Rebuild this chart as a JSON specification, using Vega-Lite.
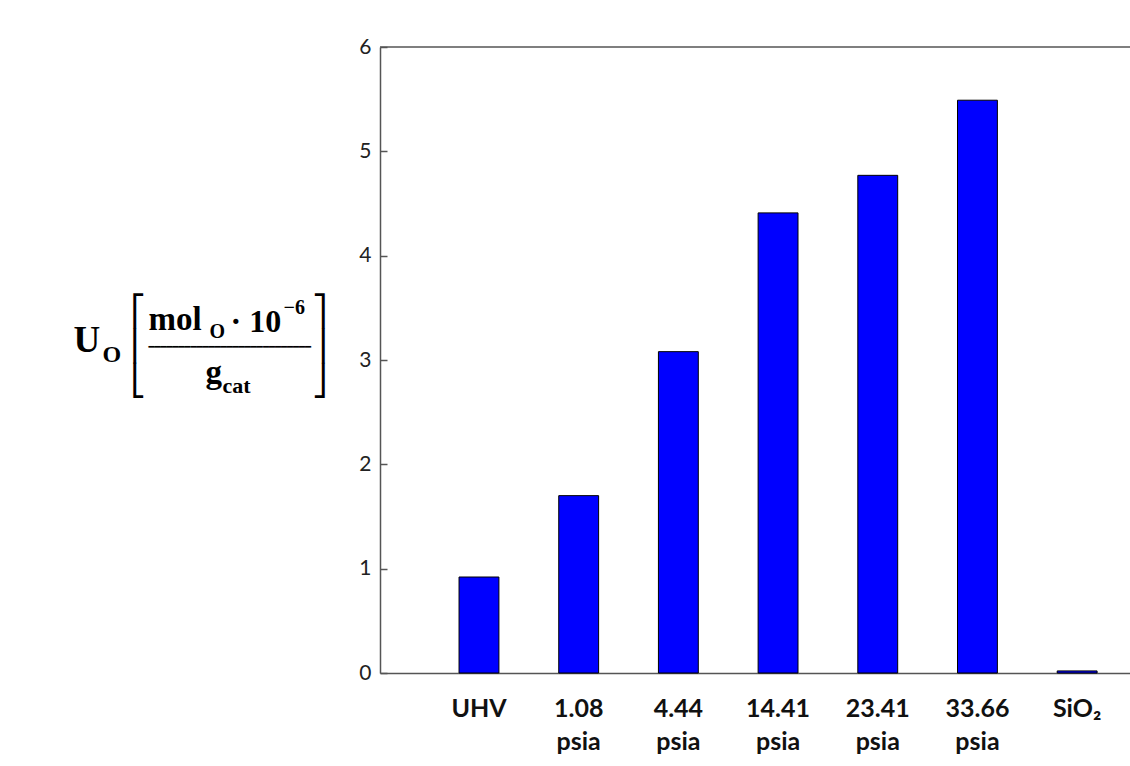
{
  "$schema": "https://vega.github.io/schema/vega-lite/v6.json",
  "autosize": "none",
  "width": 750,
  "height": 626,
  "padding": {"left": 380, "top": 47, "right": 0, "bottom": 93},
  "background": "white",
  "config": {"view": {"stroke": null}},
  "data": {"values": [
    {"cond": "UHV", "U": 0.92},
    {"cond": "1.08 psia", "U": 1.70},
    {"cond": "4.44 psia", "U": 3.08},
    {"cond": "14.41 psia", "U": 4.41},
    {"cond": "23.41 psia", "U": 4.77},
    {"cond": "33.66 psia", "U": 5.49},
    {"cond": "SiO₂", "U": 0.02}
  ]},
  "resolve": {"axis": {"y": "independent"}},
  "layer": [
    {
      "mark": {"type": "bar", "fill": "#0000ff", "stroke": "#000000", "strokeWidth": 1},
      "encoding": {
        "x": {"field": "cond", "type": "nominal", "sort": null,
          "scale": {"paddingInner": 0.6, "paddingOuter": 0.5615, "align": 0.706},
          "axis": {"title": null, "labelAngle": 0, "ticks": false, "domainColor": "#555555", "domainWidth": 1.5,
            "labelFont": "Lato", "labelFontWeight": "bold", "labelFontSize": 25, "labelColor": "#111111",
            "labelLineHeight": 33, "labelPadding": 23, "labelBaseline": "top",
            "labelExpr": "split(datum.value, ' ')"}},
        "y": {"field": "U", "type": "quantitative",
          "scale": {"domain": [0, 6], "nice": false, "zero": true},
          "axis": {"orient": "left", "values": [0, 1, 2, 3, 4, 5, 6], "grid": false, "domainColor": "#555555", "domainWidth": 1.5,
            "tickColor": "#555555", "tickWidth": 1.5, "tickSize": -7, "labelPadding": 16,
            "labelFont": "Lato", "labelFontSize": 21, "labelColor": "#222222",
            "title": "U", "titleAngle": 0, "titleFont": "Liberation Serif", "titleFontWeight": "bold", "titleFontSize": 37,
            "titleColor": "#000000", "titleAlign": "left", "titleBaseline": "alphabetic", "titleX": -307, "titleY": 304}}
      }
    },
    {
      "data": {"values": [{}]},
      "mark": {"type": "rule", "color": "#555555", "strokeWidth": 1.5},
      "encoding": {"y": {"datum": 6, "type": "quantitative",
        "axis": {"orient": "left", "domain": false, "ticks": false, "labels": false, "grid": false,
          "title": "O", "titleAngle": 0, "titleFont": "Liberation Serif", "titleFontWeight": "bold", "titleFontSize": 24,
          "titleColor": "#000000", "titleAlign": "left", "titleBaseline": "alphabetic", "titleX": -278, "titleY": 314}}}
    },
    {
      "data": {"values": [{}]},
      "mark": {"type": "rule", "opacity": 0},
      "encoding": {"y": {"datum": 6, "type": "quantitative",
        "axis": {"orient": "left", "domain": false, "ticks": false, "labels": false, "grid": false,
          "title": ["⎡", "⎢", "⎣"], "titleAngle": 0, "titleFont": "DejaVu Sans", "titleFontWeight": "normal", "titleFontSize": 30,
          "titleLineHeight": 35, "titleColor": "#000000", "titleAlign": "left", "titleBaseline": "alphabetic", "titleX": -250, "titleY": 273}}}
    },
    {
      "data": {"values": [{}]},
      "mark": {"type": "rule", "opacity": 0},
      "encoding": {"y": {"datum": 6, "type": "quantitative",
        "axis": {"orient": "left", "domain": false, "ticks": false, "labels": false, "grid": false,
          "title": ["⎤", "⎥", "⎦"], "titleAngle": 0, "titleFont": "DejaVu Sans", "titleFontWeight": "normal", "titleFontSize": 30,
          "titleLineHeight": 35, "titleColor": "#000000", "titleAlign": "right", "titleBaseline": "alphabetic", "titleX": -53, "titleY": 273}}}
    },
    {
      "data": {"values": [{}]},
      "mark": {"type": "rule", "opacity": 0},
      "encoding": {"y": {"datum": 6, "type": "quantitative",
        "axis": {"orient": "left", "domain": false, "ticks": false, "labels": false, "grid": false,
          "title": "mol", "titleAngle": 0, "titleFont": "Liberation Serif", "titleFontWeight": "bold", "titleFontSize": 33,
          "titleColor": "#000000", "titleAlign": "left", "titleBaseline": "alphabetic", "titleX": -232, "titleY": 282}}}
    },
    {
      "data": {"values": [{}]},
      "mark": {"type": "rule", "opacity": 0},
      "encoding": {"y": {"datum": 6, "type": "quantitative",
        "axis": {"orient": "left", "domain": false, "ticks": false, "labels": false, "grid": false,
          "title": "O", "titleAngle": 0, "titleFont": "Liberation Serif", "titleFontWeight": "bold", "titleFontSize": 20,
          "titleColor": "#000000", "titleAlign": "left", "titleBaseline": "alphabetic", "titleX": -171, "titleY": 290}}}
    },
    {
      "data": {"values": [{}]},
      "mark": {"type": "rule", "opacity": 0},
      "encoding": {"y": {"datum": 6, "type": "quantitative",
        "axis": {"orient": "left", "domain": false, "ticks": false, "labels": false, "grid": false,
          "title": "· 10", "titleAngle": 0, "titleFont": "Liberation Serif", "titleFontWeight": "bold", "titleFontSize": 32,
          "titleColor": "#000000", "titleAlign": "left", "titleBaseline": "alphabetic", "titleX": -150, "titleY": 284}}}
    },
    {
      "data": {"values": [{}]},
      "mark": {"type": "rule", "opacity": 0},
      "encoding": {"y": {"datum": 6, "type": "quantitative",
        "axis": {"orient": "left", "domain": false, "ticks": false, "labels": false, "grid": false,
          "title": "−6", "titleAngle": 0, "titleFont": "Liberation Serif", "titleFontWeight": "bold", "titleFontSize": 20,
          "titleColor": "#000000", "titleAlign": "left", "titleBaseline": "alphabetic", "titleX": -97, "titleY": 266}}}
    },
    {
      "data": {"values": [{}]},
      "mark": {"type": "rule", "opacity": 0},
      "encoding": {"y": {"datum": 6, "type": "quantitative",
        "axis": {"orient": "left", "domain": false, "ticks": false, "labels": false, "grid": false,
          "title": "━━━━━━━━━━━━━━━━━━━━━━━━━━━", "titleAngle": 0, "titleFont": "DejaVu Sans Mono", "titleFontWeight": "normal", "titleFontSize": 10,
          "titleColor": "#000000", "titleAlign": "left", "titleBaseline": "middle", "titleX": -232, "titleY": 299.5}}}
    },
    {
      "data": {"values": [{}]},
      "mark": {"type": "rule", "opacity": 0},
      "encoding": {"y": {"datum": 6, "type": "quantitative",
        "axis": {"orient": "left", "domain": false, "ticks": false, "labels": false, "grid": false,
          "title": "g", "titleAngle": 0, "titleFont": "Liberation Serif", "titleFontWeight": "bold", "titleFontSize": 33,
          "titleColor": "#000000", "titleAlign": "left", "titleBaseline": "alphabetic", "titleX": -175, "titleY": 335}}}
    },
    {
      "data": {"values": [{}]},
      "mark": {"type": "rule", "opacity": 0},
      "encoding": {"y": {"datum": 6, "type": "quantitative",
        "axis": {"orient": "left", "domain": false, "ticks": false, "labels": false, "grid": false,
          "title": "cat", "titleAngle": 0, "titleFont": "Liberation Serif", "titleFontWeight": "bold", "titleFontSize": 22,
          "titleColor": "#000000", "titleAlign": "left", "titleBaseline": "alphabetic", "titleX": -158, "titleY": 345}}}
    }
  ]
}
